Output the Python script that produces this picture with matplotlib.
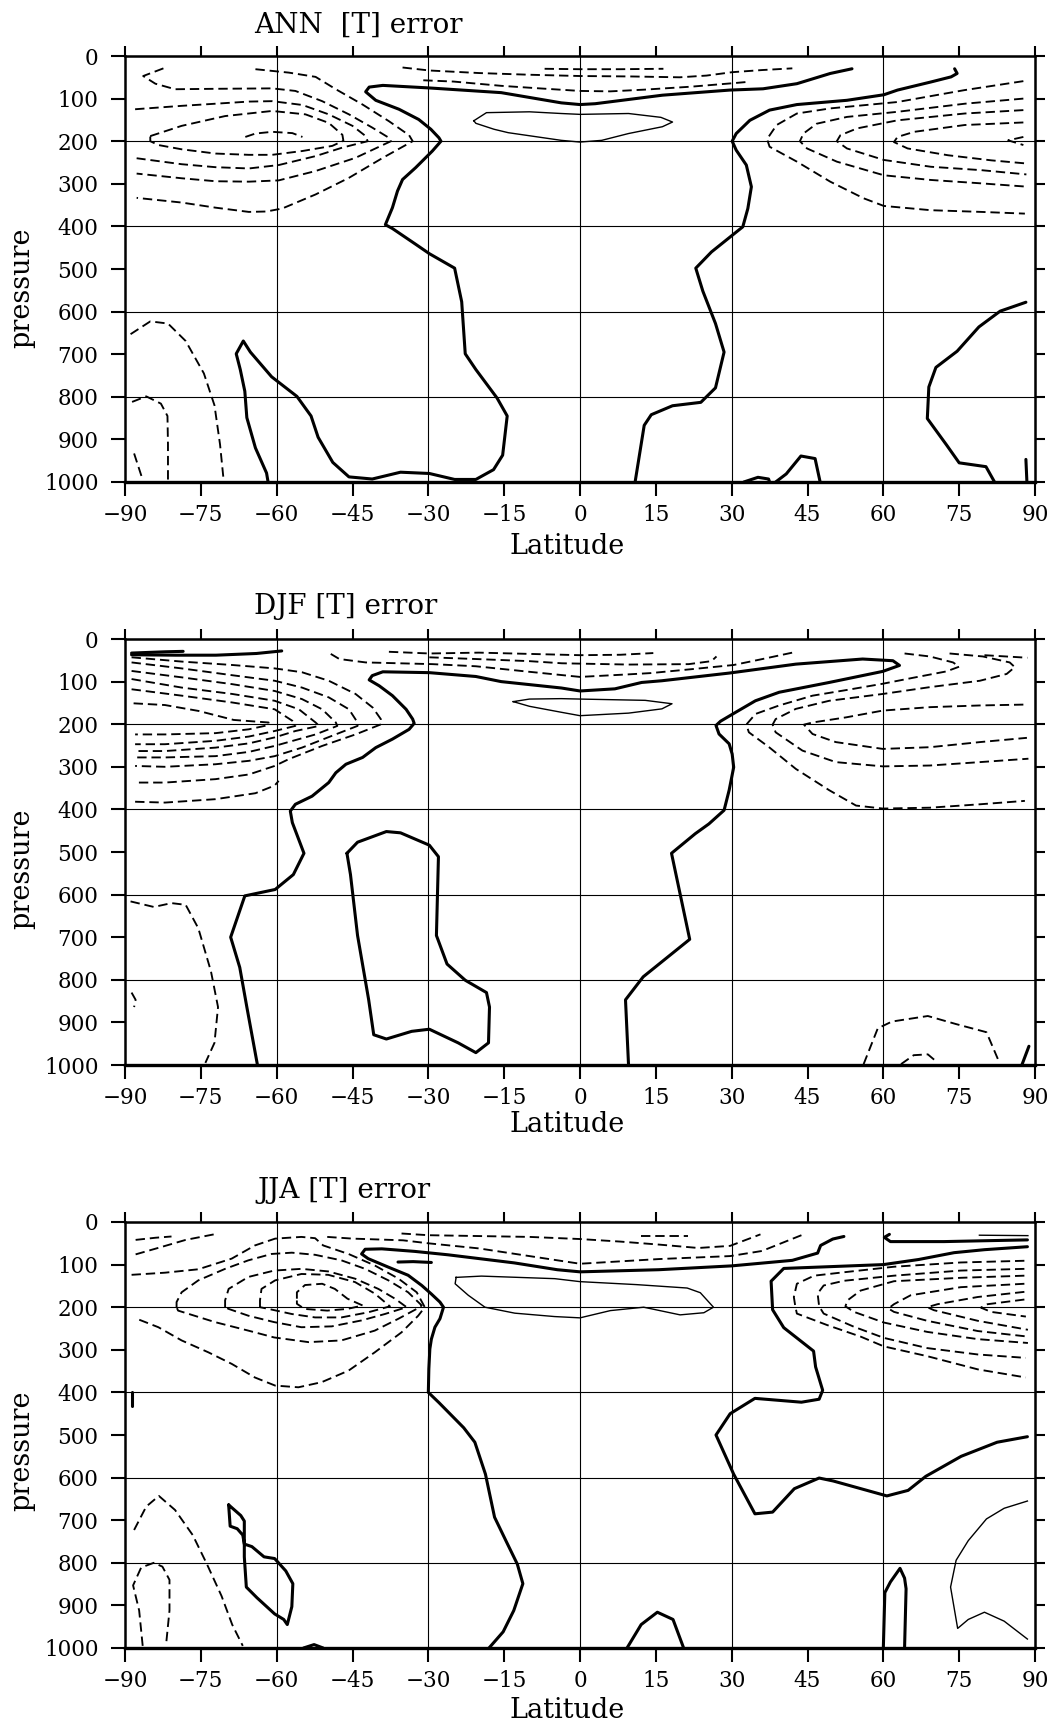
import matplotlib
matplotlib.use("Agg")
import matplotlib.pyplot as plt
import numpy as np

plt.rcParams['font.family'] = ['DejaVu Serif']

# contour traces, as (latitude, pressure) pairs
# ---------------- ANN ----------------
ann_zero_a = [(53.8, 30), (49.5, 41), (42.9, 65), (36.2, 77), (29.6, 80), (16.3, 92), (3, 112), (0, 114),
              (-3.7, 110), (-15.6, 86), (-29.8, 75), (-39, 69), (-41.7, 73), (-42.4, 84), (-40.4, 104),
              (-35.8, 125), (-31.9, 149), (-29.5, 172), (-27.9, 192), (-27.5, 200), (-29.2, 223),
              (-32.5, 262), (-35.1, 290), (-36.1, 317), (-37.1, 356), (-38.5, 396), (-37.1, 405),
              (-32.5, 442), (-29.8, 464), (-24.8, 498), (-23.4, 577), (-22.7, 699), (-20.6, 736),
              (-16.4, 803), (-14.4, 845), (-15.3, 937), (-17.1, 971), (-20.6, 994), (-24.8, 994),
              (-29.8, 980), (-35.5, 977), (-41.1, 993), (-45.7, 988), (-48.9, 954), (-51.8, 895),
              (-53.2, 845), (-56, 799), (-61, 753), (-65.2, 695), (-66.6, 669), (-68, 699), (-67.2, 736),
              (-66.3, 787), (-65.9, 849), (-64.2, 920), (-62, 979), (-61.7, 1000)]
ann_zero_b = [(74.1, 30), (74.6, 41), (73.4, 49), (69.4, 61), (62.8, 80), (60.1, 91), (52.8, 104),
              (42.9, 114), (37.5, 127), (33.6, 151), (30.9, 182), (30.1, 200), (30.9, 221), (32.9, 256),
              (33.9, 307), (33.2, 358), (32.2, 401), (30.2, 420), (26, 460), (22.9, 498), (24.3, 552),
              (26.8, 628), (28.5, 695), (26.8, 779), (23.9, 813), (18.3, 821), (14.1, 842), (12.7, 867),
              (10.9, 1000)]
ann_zero_c = [(88.2, 578), (83.1, 599), (78.9, 636), (74.6, 693), (70.4, 731), (69, 777), (68.7, 851),
              (72.5, 913), (75, 955), (80.3, 964), (82, 1000)]
ann_zero_d = [(88.2, 947), (88.4, 1000)]
ann_zero_e = [(32.4, 1000), (35.2, 989), (37.3, 993), (37.5, 1000)]
ann_zero_f = [(38.7, 1000), (40.8, 981), (43.7, 939), (46.5, 945), (47.5, 1000)]
ann_pos_a = [(-21, 152), (-18.5, 133), (-10, 131), (-3.7, 135), (0, 137), (9.6, 135), (16, 144),
             (18.3, 155), (16.3, 166), (9.6, 182), (4.3, 198), (0, 202), (-3.7, 198), (-14.2, 180),
             (-17, 172), (-20.6, 158), (-21, 152)]
ann_neg_1 = [(-66.2, 190), (-64.2, 182), (-60.9, 178), (-56.9, 181), (-54.9, 190)]
ann_neg_2 = [(-85, 188), (-78.8, 164), (-70.2, 141), (-60.9, 129), (-54.3, 137), (-49.7, 157), (-47, 185),
             (-46.8, 199), (-49, 211), (-54.9, 223), (-60.9, 232), (-65.5, 232), (-72.1, 229),
             (-78.8, 219), (-83.4, 209), (-85, 200), (-85, 188)]
ann_neg_3 = [(-88, 125), (-78.8, 117), (-72.1, 112), (-65.5, 107), (-60.9, 106), (-54.9, 115), (-49.7, 137),
             (-45, 164), (-42.4, 188), (-42, 200), (-47, 215), (-52.3, 235), (-59.6, 256), (-65.5, 264),
             (-72.1, 261), (-78.8, 254), (-87.7, 240)]
ann_neg_4 = [(-82.4, 29), (-86.4, 47), (-84, 65), (-80.1, 78), (-72.1, 77), (-60.9, 76), (-56.3, 82),
             (-51, 106), (-45.7, 137), (-41.1, 168), (-37.8, 192), (-37.4, 200), (-44.4, 239), (-52.3, 270),
             (-59.6, 292), (-65.5, 295), (-72.1, 294), (-78.8, 287), (-87.7, 276)]
ann_neg_5 = [(-64.2, 31), (-57.6, 39), (-52.3, 49), (-48.3, 78), (-43, 114), (-37.8, 153), (-33.8, 186),
             (-33.1, 200), (-39, 239), (-45.7, 286), (-52.3, 325), (-58.9, 358), (-62, 365), (-65.5, 366),
             (-72.1, 356), (-78.8, 344), (-87.7, 333)]
ann_neg_6 = [(-35.1, 27), (-29.8, 34), (-20, 40), (-10, 44), (0, 47), (10, 48), (19.7, 50), (25, 46),
             (30.1, 38), (36, 33), (42, 29)]
ann_neg_7 = [(-31, 57), (-25, 60), (-15.6, 70), (-8, 76), (0, 82), (6, 83), (12.7, 79), (22, 72),
             (30.1, 64), (33, 61)]
ann_neg_8 = [(-7, 30), (0, 31), (8, 31), (16.5, 30)]
ann_neg_9 = [(87.7, 59), (76.1, 80), (62.8, 108), (49.5, 123), (42.9, 135), (38.9, 162), (37, 195),
             (37.5, 213), (42.9, 248), (49.5, 295), (56.1, 334), (60.1, 352), (69.4, 362), (79.4, 366),
             (88, 370)]
ann_neg_10 = [(87.7, 100), (76.1, 112), (62.8, 131), (52.8, 143), (46.8, 159), (44.2, 182), (43.5, 200),
              (44.9, 217), (50.8, 248), (60.1, 280), (69.4, 291), (79.4, 299), (88.7, 307)]
ann_neg_11 = [(87.7, 127), (76.1, 135), (62.8, 151), (54.8, 170), (51.5, 186), (50.8, 200), (52.8, 217),
              (60.1, 244), (69.4, 260), (79.4, 268), (88.3, 278)]
ann_neg_12 = [(87.7, 156), (76.1, 162), (66.1, 178), (62.8, 190), (62.1, 202), (64.8, 217), (72.8, 233),
              (81.4, 245), (88, 252)]
ann_neg_13 = [(87.7, 190), (84.7, 198), (87.7, 209)]
ann_neg_14 = [(-88.9, 653), (-85, 623), (-81.5, 628), (-78, 669), (-74.4, 745), (-72.3, 820), (-71.2, 912),
              (-70.5, 995)]
ann_neg_15 = [(-88.6, 812), (-85.8, 799), (-82.9, 816), (-81.6, 845), (-81.5, 912), (-81.5, 996)]
ann_neg_16 = [(-88.2, 933), (-86.5, 995)]

# ---------------- DJF ----------------
djf_zero_a = [(-63.8, 1000), (-65.9, 864), (-67.3, 771), (-69.1, 700), (-66.3, 603), (-60.3, 588),
              (-56.7, 553), (-54.6, 503), (-56.9, 431), (-57.3, 404), (-56.3, 388), (-53, 369), (-49.7, 337),
              (-48.3, 314), (-46.3, 294), (-43, 278), (-40.4, 255), (-37.1, 235), (-33.8, 212), (-32.8, 198),
              (-33.1, 188), (-34.4, 165), (-37.1, 133), (-39.7, 110), (-41.7, 96), (-41.1, 86), (-39, 77),
              (-29.8, 79), (-20.6, 88), (-15.6, 100), (-3.7, 115), (0, 122), (6.9, 117), (12.2, 102),
              (16.2, 98), (29.5, 80), (42.7, 59), (55.9, 47), (61.9, 51), (63.2, 62), (59.9, 76),
              (49.3, 102), (39.4, 125), (34.7, 145), (30.8, 172), (27.8, 193), (26.9, 203), (27.5, 223),
              (29.5, 246), (30.1, 270), (30.4, 301), (29.5, 355), (28.5, 402), (25.5, 434), (22.8, 457),
              (18.1, 503), (21.7, 705), (12.5, 793), (9, 847), (9.6, 1000)]
djf_zero_b = [(-88.7, 33), (-82, 30), (-78.5, 29)]
djf_zero_c = [(-88.7, 37), (-80, 38), (-72, 38), (-64, 34), (-59, 28)]
djf_zero_d = [(87.4, 1000), (88.8, 956)]
djf_zero_e = [(-46.1, 503), (-44, 477), (-38.3, 452), (-35.5, 455), (-29.8, 484), (-28, 511), (-28.4, 696),
              (-26.3, 763), (-22.7, 801), (-18.5, 830), (-17.9, 864), (-18.1, 948), (-20.6, 971),
              (-24.1, 948), (-29.8, 916), (-33.3, 921), (-38.3, 939), (-40.8, 929), (-41.8, 847), (-44, 696),
              (-45.4, 553), (-46.1, 503)]
djf_pos_a = [(-13.2, 147), (-10, 141), (-3.7, 140), (0, 141), (12.9, 144), (18.2, 152), (16.2, 164),
             (9.6, 174), (0, 180), (-3.7, 172), (-10, 158), (-13.2, 147)]
djf_neg_1 = [(-88.7, 43), (-78.8, 53), (-68.8, 61), (-60.4, 69), (-55, 78), (-49.7, 98), (-44.4, 129),
             (-41, 161), (-39.4, 188), (-39.3, 200), (-44.4, 224), (-51, 251), (-57.6, 282), (-60.4, 298),
             (-65.5, 318), (-72.1, 329), (-82.1, 337), (-88, 337)]
djf_neg_2 = [(-88.7, 55), (-78.8, 69), (-68.8, 85), (-60.4, 98), (-55, 114), (-49.7, 137), (-45.7, 165),
             (-44, 196), (-44, 204), (-49, 227), (-55, 255), (-60.4, 275), (-65.5, 286), (-72.1, 294),
             (-82.1, 300), (-88, 298)]
djf_neg_3 = [(-88.7, 75), (-78.8, 90), (-68.8, 106), (-60.4, 122), (-55, 141), (-51, 165), (-48.3, 196),
             (-48, 204), (-52.3, 224), (-60.4, 251), (-65.5, 265), (-72.1, 275), (-82.1, 278), (-88, 278)]
djf_neg_4 = [(-88.7, 94), (-78.8, 114), (-68.8, 129), (-60.4, 145), (-55.6, 165), (-52.3, 196), (-51.6, 204),
             (-56.3, 216), (-60.4, 231), (-65.5, 245), (-72.1, 255), (-82.1, 263), (-88, 263)]
djf_neg_5 = [(-88.7, 118), (-78.8, 133), (-68.8, 149), (-60.4, 165), (-56.9, 192), (-56.3, 204),
             (-60.4, 216), (-65.5, 229), (-72.1, 239), (-82.1, 247), (-88, 247)]
djf_neg_6 = [(-88.3, 151), (-82.1, 155), (-75.4, 169), (-68.5, 190), (-61.6, 196), (-61.6, 202),
             (-65.5, 212), (-72.1, 221), (-82.1, 224), (-88, 224)]
djf_neg_7 = [(-88, 382), (-82.1, 384), (-72.1, 376), (-64.2, 362), (-60.4, 344), (-59.6, 333)]
djf_neg_8 = [(-37.8, 30), (-29.8, 34), (-20, 32), (-10, 35), (0, 38), (8, 37), (14.5, 33)]
djf_neg_9 = [(-29.8, 43), (-20.6, 47), (-10, 52), (-3.6, 57), (9.6, 60), (21.5, 59), (26, 52), (27, 41)]
djf_neg_10 = [(-49.3, 35), (-47.6, 47), (-42.4, 55), (-29.2, 59), (-20.6, 64), (-10, 77), (0, 89), (9.6, 83),
              (14, 80), (22.8, 70), (30.4, 61), (36.1, 47), (42.4, 31)]
djf_neg_11 = [(64.2, 34), (69.2, 41), (73.8, 55), (75, 65), (72.5, 76), (65.9, 91), (59.9, 105), (52.6, 120),
              (46, 133), (39.4, 156), (34.7, 176), (32.9, 201), (33.4, 219), (37.4, 254), (42.7, 305),
              (49.3, 355), (54.6, 391), (59.9, 398), (69.2, 396), (79.1, 388), (88, 380)]
djf_neg_12 = [(73.1, 34), (79.7, 41), (85, 55), (86, 66), (84.4, 82), (79.1, 98), (69.2, 113), (59.9, 129),
              (49.3, 145), (42.7, 164), (38.7, 188), (38.1, 201), (38.7, 219), (44, 262), (50.6, 289),
              (59.9, 299), (69.2, 297), (79.1, 289), (88.7, 281)]
djf_neg_13 = [(80, 38), (88.5, 44)]
djf_neg_14 = [(87.7, 154), (79.1, 156), (69.2, 160), (59.9, 168), (52.6, 184), (46, 196), (44.3, 201),
              (46, 223), (50.6, 242), (59.9, 258), (69.2, 254), (79.1, 242), (88.4, 232)]
djf_neg_15 = [(-88.9, 616), (-84.3, 629), (-80.8, 620), (-78, 624), (-75.5, 679), (-73, 780), (-71.6, 864),
              (-72.3, 948), (-74.1, 995)]
djf_neg_16 = [(-88.7, 830), (-87.9, 847), (-88.2, 864)]
djf_neg_17 = [(56.1, 998), (58.9, 914), (61.7, 898), (68.8, 885), (74.4, 904), (80.4, 923), (82.8, 990)]
djf_neg_18 = [(63.5, 998), (66, 977), (68.8, 975), (70.5, 992)]

# ---------------- JJA ----------------
jja_zero_a = [(52.2, 34), (50, 40), (47.6, 55), (47, 73), (42, 90), (30, 103), (15.6, 112), (0, 117),
              (-4.5, 112), (-13, 96), (-26.1, 77), (-32.7, 69), (-39.2, 63), (-42.5, 64), (-43.2, 75),
              (-41.9, 86), (-37.9, 106), (-34, 125), (-31.3, 149), (-29.4, 169), (-27.7, 188), (-27, 200),
              (-27.7, 227), (-28.7, 247), (-29.4, 275), (-29.7, 298), (-29.9, 345), (-30, 400), (-27.9, 424),
              (-23, 483), (-20.8, 517), (-18.7, 592), (-16.9, 693), (-14.5, 752), (-12.4, 803), (-11.3, 849),
              (-13.1, 912), (-15.2, 962), (-18, 1000)]
jja_zero_b = [(88.5, 58), (80, 65), (74, 72), (67, 88), (60, 100), (40.3, 109), (37.8, 139), (38.1, 206),
              (40.3, 248), (46.2, 303), (46.6, 340), (48, 395), (47.3, 416), (43.8, 423), (34.6, 414),
              (29.7, 450), (26.9, 500), (30.4, 592), (34.6, 685), (38.1, 681), (42.4, 626), (47.3, 601),
              (50.1, 608), (60.7, 643), (64.9, 630), (68.4, 597), (75.4, 550), (82.5, 517), (88.5, 504)]
jja_zero_c = [(61.2, 29), (60.2, 36), (61.4, 46), (72, 46), (80, 44), (88.5, 42)]
jja_zero_d = [(-36, 94), (-33, 93), (-29.4, 95)]
jja_zero_e = [(-69.5, 664), (-69.2, 714), (-67.8, 720), (-66.7, 735), (-66.4, 756), (-64.9, 762),
              (-62.5, 786), (-60.4, 790), (-58.2, 819), (-56.8, 849), (-57, 903), (-57.9, 945), (-58.6, 933),
              (-60.4, 920), (-63.9, 882), (-66, 857), (-66.4, 786), (-66.4, 702), (-67.1, 689), (-69.5, 664)]
jja_zero_f = [(-54.7, 1000), (-52.6, 992), (-50.8, 1000)]
jja_zero_g = [(-88.6, 399), (-88.6, 433)]
jja_zero_h = [(60, 1000), (60.3, 870), (61.4, 845), (63.3, 813), (64.2, 836), (64.5, 861), (64.2, 1000)]
jja_zero_i = [(9.3, 1000), (12.1, 945), (15.3, 916), (18.4, 933), (20.5, 1000)]
jja_pos_a = [(-24.5, 130), (-19.5, 127), (-5, 133), (0, 140), (11.2, 147), (21.2, 155), (23.8, 166),
             (26.4, 200), (24.5, 213), (19.8, 218), (12.6, 200), (6, 208), (0, 225), (-5, 222), (-12.9, 214),
             (-18.8, 200), (-22.1, 172), (-24.7, 145), (-24.5, 130)]
jja_pos_b = [(88.5, 655), (83.9, 672), (80.4, 697), (76.8, 748), (74.4, 794), (73.3, 857), (74.7, 954),
             (76.8, 933), (80, 916), (83.9, 937), (88.5, 979)]
jja_pos_c = [(79, 31), (88.6, 32)]
jja_neg_1 = [(-87.9, 42), (-84, 37), (-80.8, 34)]
jja_neg_2 = [(-87.9, 76), (-82.9, 59), (-78, 42), (-72.4, 29)]
jja_neg_3 = [(-88.7, 124), (-82.1, 119), (-75.5, 111), (-68.9, 86), (-64.3, 55), (-60.3, 39), (-55.1, 35),
             (-52.4, 38), (-50.8, 55), (-45.8, 75), (-40.6, 102), (-35.9, 133), (-32.3, 165), (-30.7, 200),
             (-32, 220), (-35.3, 259), (-40.6, 306), (-45.8, 349), (-51.1, 376), (-55.7, 388), (-60.3, 384),
             (-64.3, 365), (-68.9, 333), (-73.5, 306), (-78.8, 278), (-83.4, 247), (-87.7, 227)]
jja_neg_4 = [(-79.8, 200), (-79.8, 188), (-78.8, 165), (-75.5, 137), (-70.2, 110), (-65.6, 90), (-61, 75),
             (-57, 72), (-52.4, 77), (-47.2, 90), (-42.5, 110), (-37.9, 137), (-34, 165), (-31.3, 196),
             (-32, 202), (-35.9, 227), (-40.6, 255), (-47.2, 278), (-53.7, 282), (-60.5, 271), (-65.6, 255),
             (-72.2, 235), (-79.5, 208), (-79.8, 200)]
jja_neg_5 = [(-70.2, 200), (-70.2, 184), (-69.5, 157), (-65.6, 129), (-60.5, 114), (-55.1, 110), (-49.8, 116),
             (-44.5, 133), (-39.9, 157), (-36.6, 180), (-34.3, 200), (-38.6, 216), (-43.2, 231), (-49.1, 245),
             (-55.1, 247), (-60.5, 235), (-65.6, 220), (-69.5, 204), (-70.2, 200)]
jja_neg_6 = [(-63.3, 200), (-63.3, 184), (-63, 157), (-60.3, 137), (-55.1, 122), (-49.8, 124), (-44.5, 141),
             (-40.6, 168), (-37.6, 198), (-41.9, 212), (-47.2, 224), (-52.4, 224), (-57, 216), (-61.6, 204),
             (-63.3, 200)]
jja_neg_7 = [(-56, 180), (-56, 165), (-54.4, 148), (-51, 145), (-48.5, 157), (-46, 180), (-43, 196),
             (-46, 204), (-50, 208), (-54.5, 204), (-56, 192), (-56, 180)]
jja_neg_8 = [(-35.3, 27), (-30, 31), (-20, 33), (-10, 35), (0, 40), (8, 46), (15.6, 53), (23.4, 61),
             (29.7, 56), (35.7, 29)]
jja_neg_9 = [(-50, 35), (-45, 39), (-35, 43), (-30, 50), (-20, 62), (-10, 80), (0, 98), (15.6, 87),
             (29.7, 80), (36, 68), (43.8, 31)]
jja_neg_10 = [(12.1, 32), (21.3, 32)]
jja_neg_11 = [(87.9, 91), (75.3, 95), (62.1, 105), (52.2, 118), (46.3, 126), (42.9, 145), (42.3, 176),
              (42.6, 199), (42.9, 215), (48.9, 242), (55.5, 269), (60.1, 292), (68.7, 315), (78.7, 346),
              (88.2, 365)]
jja_neg_12 = [(87.9, 110), (75.3, 114), (62.1, 126), (52.2, 138), (48.2, 149), (47, 168), (47.3, 198),
              (48.2, 215), (54.2, 246), (60.1, 272), (68.7, 296), (78.7, 311), (88.2, 319)]
jja_neg_13 = [(87.9, 126), (75.3, 131), (62.1, 139), (55.5, 161), (52.9, 184), (52.5, 198), (54.2, 211),
              (60.1, 236), (68.7, 258), (78.7, 275), (88.6, 284)]
jja_neg_14 = [(87.9, 145), (75.3, 153), (65.4, 172), (62.1, 193), (61, 203), (62.1, 211), (68.7, 232),
              (78.7, 256), (88.6, 269)]
jja_neg_15 = [(87.9, 164), (78.7, 176), (70.7, 193), (68.7, 200), (70, 207), (78.7, 232), (88.6, 253)]
jja_neg_16 = [(87.9, 182), (80.6, 193), (79.3, 201), (81.3, 211), (88.2, 222)]
jja_neg_17 = [(-88.2, 723), (-85.8, 668), (-83.3, 643), (-80.1, 676), (-76.6, 735), (-73.8, 803),
              (-70.9, 878), (-68.8, 945), (-66.7, 995)]
jja_neg_18 = [(-86.5, 995), (-87.2, 912), (-88.4, 853), (-86.8, 811), (-84.3, 800), (-82.6, 809),
              (-81.2, 840), (-81.2, 912), (-81.9, 995)]

lat_ticks = np.arange(-90, 91, 15)
p_ticks = np.arange(0, 1001, 100)
lat_grid = [-60, -30, 0, 30, 60]
p_grid = [200, 400, 600, 800]

panels = [
    dict(title='ANN  [T] error', top=56,
         zero=[ann_zero_a, ann_zero_b, ann_zero_c, ann_zero_d, ann_zero_e, ann_zero_f],
         pos=[ann_pos_a],
         neg=[ann_neg_1, ann_neg_2, ann_neg_3, ann_neg_4, ann_neg_5, ann_neg_6, ann_neg_7, ann_neg_8,
              ann_neg_9, ann_neg_10, ann_neg_11, ann_neg_12, ann_neg_13, ann_neg_14, ann_neg_15, ann_neg_16],
         title_xy=(358, 25), ylab_y=288, xlab_y=546),
    dict(title='DJF [T] error', top=639,
         zero=[djf_zero_a, djf_zero_b, djf_zero_c, djf_zero_d, djf_zero_e],
         pos=[djf_pos_a],
         neg=[djf_neg_1, djf_neg_2, djf_neg_3, djf_neg_4, djf_neg_5, djf_neg_6, djf_neg_7, djf_neg_8,
              djf_neg_9, djf_neg_10, djf_neg_11, djf_neg_12, djf_neg_13, djf_neg_14, djf_neg_15,
              djf_neg_16, djf_neg_17, djf_neg_18],
         title_xy=(346, 607), ylab_y=869, xlab_y=1124),
    dict(title='JJA [T] error', top=1222,
         zero=[jja_zero_a, jja_zero_b, jja_zero_c, jja_zero_d, jja_zero_e, jja_zero_f, jja_zero_g,
               jja_zero_h, jja_zero_i],
         pos=[jja_pos_a, jja_pos_b, jja_pos_c],
         neg=[jja_neg_1, jja_neg_2, jja_neg_3, jja_neg_4, jja_neg_5, jja_neg_6, jja_neg_7, jja_neg_8,
              jja_neg_9, jja_neg_10, jja_neg_11, jja_neg_12, jja_neg_13, jja_neg_14, jja_neg_15,
              jja_neg_16, jja_neg_17, jja_neg_18],
         title_xy=(344, 1191), ylab_y=1451, xlab_y=1710),
]

styles = {
    'zero': dict(color='black', lw=2.2, solid_joinstyle='round', solid_capstyle='round'),
    'pos': dict(color='black', lw=1.0),
    'neg': dict(color='black', lw=1.35, linestyle=(0, (5, 2.6))),
}

W, H = 1056, 1729
fig = plt.figure(figsize=(W / 100, H / 100), dpi=100)
fig.patch.set_facecolor('white')

for pan in panels:
    ax = fig.add_axes([125 / W, 1 - (pan['top'] + 426) / H, 910 / W, 426 / H])
    ax.set_xlim(-90, 90)
    ax.set_ylim(1000, 0)
    ax.set_xticks(lat_ticks)
    ax.set_yticks(p_ticks)
    ax.tick_params(axis='both', direction='out', length=10, width=1.5, labelsize=15.5)
    ax.tick_params(axis='x', pad=6)
    ax.tick_params(axis='y', pad=9)
    for s in ax.spines.values():
        s.set_linewidth(1.8)
    ax.spines['bottom'].set_linewidth(2.4)

    # ticks on top and right, no labels
    tx = ax.secondary_xaxis('top')
    tx.set_xticks(lat_ticks)
    tx.tick_params(direction='out', length=7, width=1.5, labeltop=False)
    ty = ax.secondary_yaxis('right')
    ty.set_yticks(p_ticks)
    ty.tick_params(direction='out', length=7, width=1.5, labelright=False)

    for v in lat_grid:
        ax.axvline(v, color='black', lw=0.8, zorder=1)
    for v in p_grid:
        ax.axhline(v, color='black', lw=0.8, zorder=1)

    for kind in ('neg', 'pos', 'zero'):
        for ln in pan[kind]:
            lat, p = np.array(ln).T
            ax.plot(lat, p, zorder=3, **styles[kind])

    tx0, ty0 = pan['title_xy']
    fig.text(tx0 / W, 1 - ty0 / H, pan['title'], fontsize=20, ha='center', va='center')
    fig.text(22 / W, 1 - pan['ylab_y'] / H, 'pressure', fontsize=19.5, rotation=90,
             ha='center', va='center')
    fig.text(567 / W, 1 - pan['xlab_y'] / H, 'Latitude', fontsize=19.5, ha='center', va='center')

fig.savefig('out.png', dpi=100)
